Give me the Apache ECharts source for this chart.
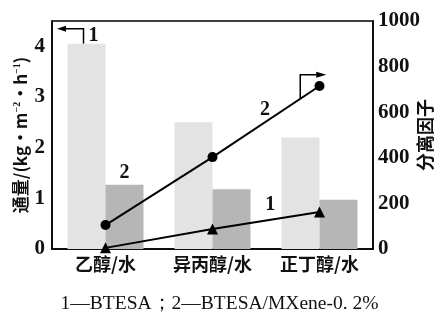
<!DOCTYPE html>
<html><head><meta charset="utf-8">
<script src="https://cdn.jsdelivr.net/npm/echarts@6/dist/echarts.min.js"></script>
<style>html,body{margin:0;padding:0;background:#fff}#c{width:439px;height:322px}</style>
</head><body><div id="c"></div>
<script>
const categories = ['乙醇/水', '异丙醇/水', '正丁醇/水'];
const flux1 = [4.05, 2.5, 2.2];
const flux2 = [1.27, 1.18, 0.97];
const sep1 = [5, 88, 162];
const sep2 = [105, 403, 715];
const leftTicks = [0, 1, 2, 3, 4];
const rightTicks = [0, 200, 400, 600, 800, 1000];
const caption = '1—BTESA；2—BTESA/MXene-0. 2%';

const serif = 'Liberation Serif';
const cjk = 'Noto Sans CJK SC';
const chart = echarts.init(document.getElementById('c'));
chart.setOption({
  animation: false,
  grid: {left: 52, right: 66, top: 21, bottom: 73, show: true, borderColor: '#000', borderWidth: 1.5,
    containLabel: false, outerBoundsMode: 'none'},
  title: {text: caption, left: 'center', top: 289, textStyle: {fontFamily: serif, fontSize: 19.5, fontWeight: 'normal', color: '#111'}},
  xAxis: {
    type: 'category', data: categories,
    axisLine: {lineStyle: {color: '#000', width: 1.5}},
    axisTick: {inside: true, alignWithLabel: true, length: 5, lineStyle: {color: '#000', width: 1.5}},
    axisLabel: {fontFamily: cjk, fontSize: 18, fontWeight: 600, color: '#111', margin: 6}
  },
  yAxis: [{
    type: 'value', min: 0, max: 4.5, interval: 1, position: 'left',
    name: '通量/(kg·m{sup|−2}·h{sup|−1})', nameLocation: 'middle', nameGap: 23, nameRotate: 90, nameMoveOverlap: false,
    nameTextStyle: {fontFamily: cjk, fontSize: 17, fontWeight: 600, color: '#111',
      rich: {sup: {fontSize: 10, verticalAlign: 'top', fontFamily: serif, color: '#111', padding: [0,0,6,0]}}},
    splitLine: {show: false},
    axisLine: {show: true, lineStyle: {color: '#000', width: 1.5}},
    axisTick: {inside: true, length: 6, lineStyle: {color: '#000', width: 1.5}},
    axisLabel: {fontFamily: serif, fontSize: 21, fontWeight: 'bold', color: '#111', margin: 7,
      formatter: v => leftTicks.includes(v) ? String(v) : ''}
  }, {
    type: 'value', min: 0, max: 1000, interval: 200, position: 'right',
    name: '分离因子', nameLocation: 'middle', nameGap: 43, nameRotate: 90, nameMoveOverlap: false,
    nameTextStyle: {fontFamily: cjk, fontSize: 18, fontWeight: 600, color: '#111'},
    splitLine: {show: false},
    axisLine: {show: true, lineStyle: {color: '#000', width: 1.5}},
    axisTick: {inside: true, length: 6, lineStyle: {color: '#000', width: 1.5}},
    axisLabel: {fontFamily: serif, fontSize: 21, fontWeight: 'bold', color: '#111', margin: 5,
      formatter: v => rightTicks.includes(v) ? String(v) : ''}
  }],
  series: [
    {type: 'bar', name: '1', data: flux1, yAxisIndex: 0, barGap: '0%', barCategoryGap: '29%',
      itemStyle: {color: '#e3e3e3'}},
    {type: 'bar', name: '2', data: flux2, yAxisIndex: 0,
      itemStyle: {color: '#b6b6b6'},
      label: {show: true, position: 'top', distance: 2, fontFamily: serif, fontSize: 20, fontWeight: 'bold', color: '#111',
        formatter: p => p.dataIndex === 0 ? '2' : ''}},
    {type: 'line', name: 'sep2', data: sep2, yAxisIndex: 1, symbol: 'circle', symbolSize: 10,
      lineStyle: {color: '#000', width: 2}, itemStyle: {color: '#000'}, z: 5},
    {type: 'line', name: 'sep1', data: sep1, yAxisIndex: 1, symbol: 'triangle', symbolSize: 11,
      lineStyle: {color: '#000', width: 2}, itemStyle: {color: '#000'}, z: 5}
  ]
});

// annotations anchored to data via the library's coordinate conversion
const px = (i, v, ax) => chart.convertToPixel({xAxisIndex: 0, yAxisIndex: ax}, [i, v]);
const grid = chart.getModel().getComponent('grid').coordinateSystem.getRect();
const bw = (px(1,0,0)[0] - px(0,0,0)[0]) * 0.71 / 2;
const txt = {fontFamily: serif, fontSize: 20, fontWeight: 'bold', fill: '#111'};
const g = [];
// arrow 1 -> left axis
const b1 = px(0, flux1[0], 0);
const ax1 = b1[0] - bw / 2 - 3;
const top1 = b1[1] - 15;
g.push({type: 'polyline', shape: {points: [[ax1, b1[1]], [ax1, top1], [grid.x + 12, top1]]}, style: {stroke: '#000', lineWidth: 1.5, fill: null}});
g.push({type: 'polygon', shape: {points: [[grid.x + 5, top1], [grid.x + 14, top1 - 3], [grid.x + 14, top1 + 3]]}, style: {fill: '#000'}});
g.push({type: 'text', style: Object.assign({text: '1', x: ax1 + 10, y: top1 + 7, align: 'center', verticalAlign: 'middle'}, txt)});
// arrow 2 -> right axis
const p1 = px(1, sep2[1], 1), p2 = px(2, sep2[2], 1);
const t = 0.82;
const ax2 = [p1[0] + (p2[0] - p1[0]) * t, p1[1] + (p2[1] - p1[1]) * t];
const top2 = ax2[1] - 24;
g.push({type: 'polyline', shape: {points: [[ax2[0], ax2[1]], [ax2[0], top2], [ax2[0] + 18, top2]]}, style: {stroke: '#000', lineWidth: 1.5, fill: null}});
g.push({type: 'polygon', shape: {points: [[ax2[0] + 26, top2], [ax2[0] + 16, top2 - 3], [ax2[0] + 16, top2 + 3]]}, style: {fill: '#000'}});
// line labels
const m2 = [p1[0] + (p2[0] - p1[0]) * 0.49, p1[1] + (p2[1] - p1[1]) * 0.49];
g.push({type: 'text', style: Object.assign({text: '2', x: m2[0], y: m2[1] - 12, align: 'center', verticalAlign: 'middle'}, txt)});
const q1 = px(1, sep1[1], 1), q2 = px(2, sep1[2], 1);
const m1 = [q1[0] + (q2[0] - q1[0]) * 0.54, q1[1] + (q2[1] - q1[1]) * 0.54];
g.push({type: 'text', style: Object.assign({text: '1', x: m1[0], y: m1[1] - 15, align: 'center', verticalAlign: 'middle'}, txt)});
chart.setOption({graphic: g});
</script></body></html>
